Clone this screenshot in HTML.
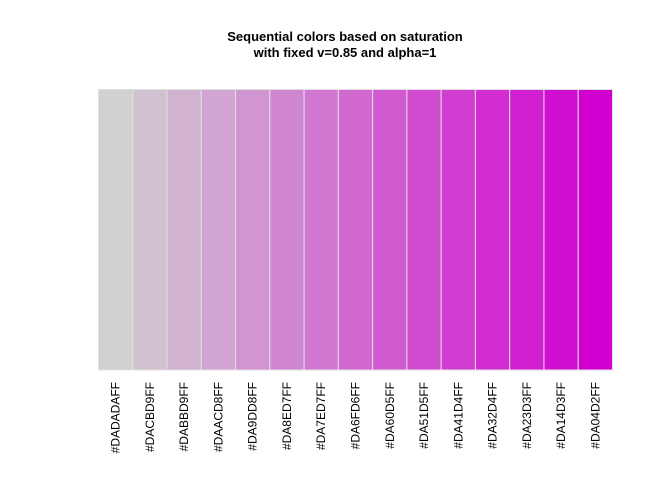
<!DOCTYPE html>
<html><head><meta charset="utf-8"><style>
body{margin:0;background:#fff}
svg{display:block;font-family:"Liberation Sans",sans-serif}
</style></head><body>
<svg id="chart" width="672" height="480">
<text x="345" y="41" text-anchor="middle" font-size="13" font-weight="bold">Sequential colors based on saturation</text>
<text x="345" y="57" text-anchor="middle" font-size="13" font-weight="bold">with fixed v=0.85 and alpha=1</text>
<g id="bars"></g><g id="labels"></g>
</svg>
<script>
const labels=["#DADADAFF","#DACBD9FF","#DABBD9FF","#DAACD8FF","#DA9DD8FF","#DA8ED7FF","#DA7ED7FF","#DA6FD6FF","#DA60D5FF","#DA51D5FF","#DA41D4FF","#DA32D4FF","#DA23D3FF","#DA14D3FF","#DA04D2FF"];
const saturations=[0,0.0714,0.1429,0.2143,0.2857,0.3571,0.4286,0.5,0.5714,0.6429,0.7143,0.7857,0.8571,0.9286,1];
const ns="http://www.w3.org/2000/svg";
const x0=98.5,x1=612.5,yTop=89.5,yBot=370;
const bw=(x1-x0)/labels.length;
const xScale=i=>x0+i*bw;
function hsv(s){const v=0.82*255;const lo=Math.round(v*(1-s));const hi=Math.round(v);return `rgb(${hi},${lo},${hi})`;}
const gb=document.getElementById('bars'),gl=document.getElementById('labels');
saturations.forEach((s,i)=>{
 const r=document.createElementNS(ns,'rect');
 r.setAttribute('x',xScale(i));r.setAttribute('y',yTop);r.setAttribute('width',bw);r.setAttribute('height',yBot-yTop);
 r.setAttribute('fill',hsv(s));r.setAttribute('stroke','#e0e0e0');r.setAttribute('stroke-width','1');
 
 
 gb.appendChild(r);
 const t=document.createElementNS(ns,'text');
 const cx=xScale(i)+bw/2+4;
 t.setAttribute('x',cx);t.setAttribute('y',382);
 t.setAttribute('transform',`rotate(-90 ${cx} 382)`);
 t.setAttribute('text-anchor','end');t.setAttribute('font-size','12');
 t.textContent=labels[i];
 
 
 gl.appendChild(t);
});
</script>
</body></html>
